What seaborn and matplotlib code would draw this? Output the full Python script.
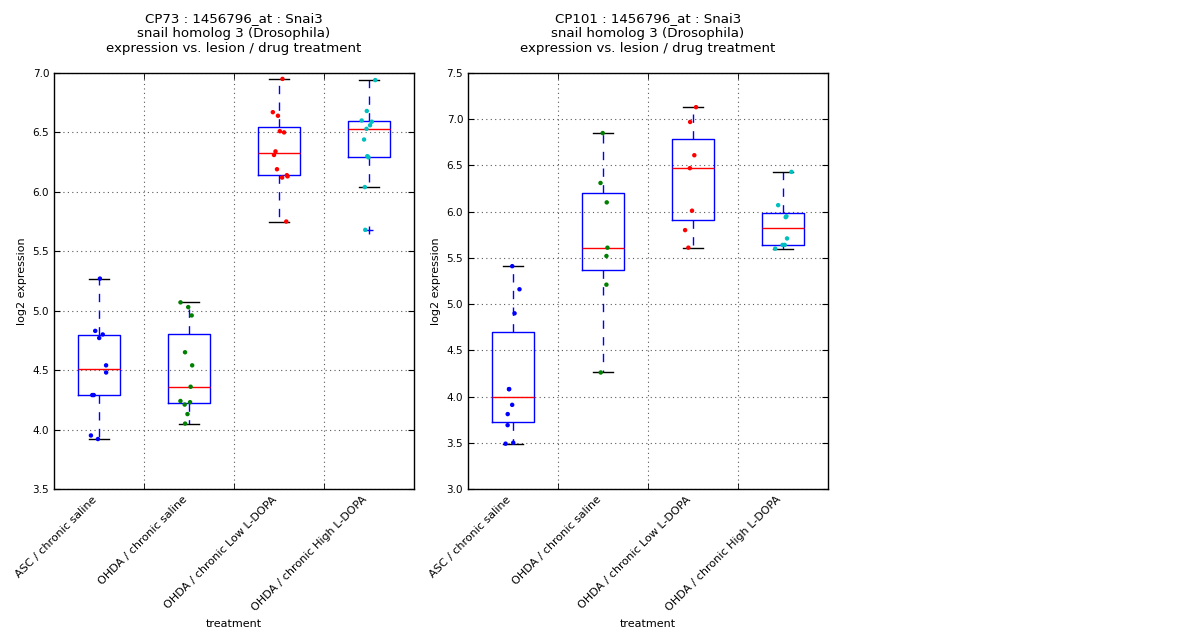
import numpy as np
import pandas as pd
import matplotlib
matplotlib.use('Agg')
import matplotlib.pyplot as plt
from matplotlib.ticker import FixedLocator, MultipleLocator, FormatStrFormatter
import seaborn as sns

# treatment groups (x categories) and point colours per group
treatments = ['ASC / chronic saline', 'OHDA / chronic saline',
              'OHDA / chronic Low L-DOPA', 'OHDA / chronic High L-DOPA']
group_colors = ['#0000ff', '#008000', '#ff0000', '#00bfbf']

# CP73 values (log2 expression)
cp73_asc = [5.27, 4.80, 4.83, 4.77, 4.54, 4.48, 4.29, 4.29, 3.95, 3.92]
cp73_ohda_saline = [5.07, 5.03, 4.96, 4.65, 4.54, 4.36, 4.24, 4.23, 4.21, 4.13, 4.05]
cp73_low = [6.95, 6.64, 6.67, 6.51, 6.50, 6.34, 6.31, 6.19, 6.14, 6.13, 6.12, 5.75]
cp73_high = [6.94, 6.68, 6.60, 6.59, 6.56, 6.53, 6.44, 6.30, 6.29, 6.04, 5.68]

# CP101 values (log2 expression)
cp101_asc = [5.41, 5.16, 4.90, 4.08, 4.08, 3.91, 3.81, 3.69, 3.50, 3.49]
cp101_ohda_saline = [6.85, 6.31, 6.10, 5.61, 5.52, 5.21, 4.26]
cp101_low = [7.13, 6.97, 6.61, 6.47, 6.01, 5.80, 5.61]
cp101_high = [6.43, 6.07, 5.95, 5.94, 5.71, 5.64, 5.64, 5.60]

panels = [
    ('CP73', [cp73_asc, cp73_ohda_saline, cp73_low, cp73_high], (3.5, 7.0)),
    ('CP101', [cp101_asc, cp101_ohda_saline, cp101_low, cp101_high], (3.0, 7.5)),
]

np.random.seed(3)

fig = plt.figure(figsize=(12, 6.4), dpi=100, facecolor='white')
axes = [fig.add_axes([0.045, 0.236, 0.30, 0.650]),
        fig.add_axes([0.39, 0.236, 0.30, 0.650])]

for ax, (name, groups, ylim) in zip(axes, panels):
    df = pd.DataFrame({
        'treatment': np.repeat(treatments, [len(g) for g in groups]),
        'value': np.concatenate(groups),
    })

    sns.boxplot(data=df, x='treatment', y='value', order=treatments, ax=ax,
                width=0.46, fill=False, linecolor='blue', linewidth=1,
                boxprops=dict(color='blue', linewidth=1),
                whiskerprops=dict(color='blue', linestyle=(0, (6, 6)), linewidth=1),
                capprops=dict(color='black', linewidth=1),
                medianprops=dict(color='red', linewidth=1),
                flierprops=dict(marker='+', markeredgecolor='blue',
                                markerfacecolor='blue', markersize=6))

    sns.stripplot(data=df, x='treatment', y='value', order=treatments,
                  hue='treatment', hue_order=treatments, palette=group_colors,
                  jitter=0.1, size=3.2, linewidth=0, legend=False, ax=ax,
                  zorder=3)

    ax.set_xlim(-0.5, 3.5)
    ax.set_ylim(*ylim)
    ax.yaxis.set_major_locator(MultipleLocator(0.5))
    ax.yaxis.set_major_formatter(FormatStrFormatter('%.1f'))
    ax.xaxis.set_minor_locator(FixedLocator([0.5, 1.5, 2.5]))

    ax.grid(False)
    grid_style = dict(linestyle=(0, (1, 3)), color='0.35', linewidth=0.8)
    ax.grid(True, axis='y', which='major', **grid_style)
    ax.grid(True, axis='x', which='minor', **grid_style)

    ax.tick_params(axis='y', which='major', direction='in', right=True,
                   length=4, labelsize=7.5)
    ax.tick_params(axis='x', which='major', length=0, labelsize=8, pad=4)
    ax.tick_params(axis='x', which='minor', direction='in', top=True, length=4)
    plt.setp(ax.get_xticklabels(), rotation=45, ha='right')

    for s in ax.spines.values():
        s.set_visible(True)
        s.set_color('black')
        s.set_linewidth(1)

    ax.set_xlabel('treatment', fontsize=8)
    ax.set_ylabel('log2 expression', fontsize=8)
    ax.set_title(f'{name} : 1456796_at : Snai3\nsnail homolog 3 (Drosophila)\n'
                 'expression vs. lesion / drug treatment', fontsize=9.6, pad=15)

fig.savefig('out.png', dpi=100, facecolor='white')
